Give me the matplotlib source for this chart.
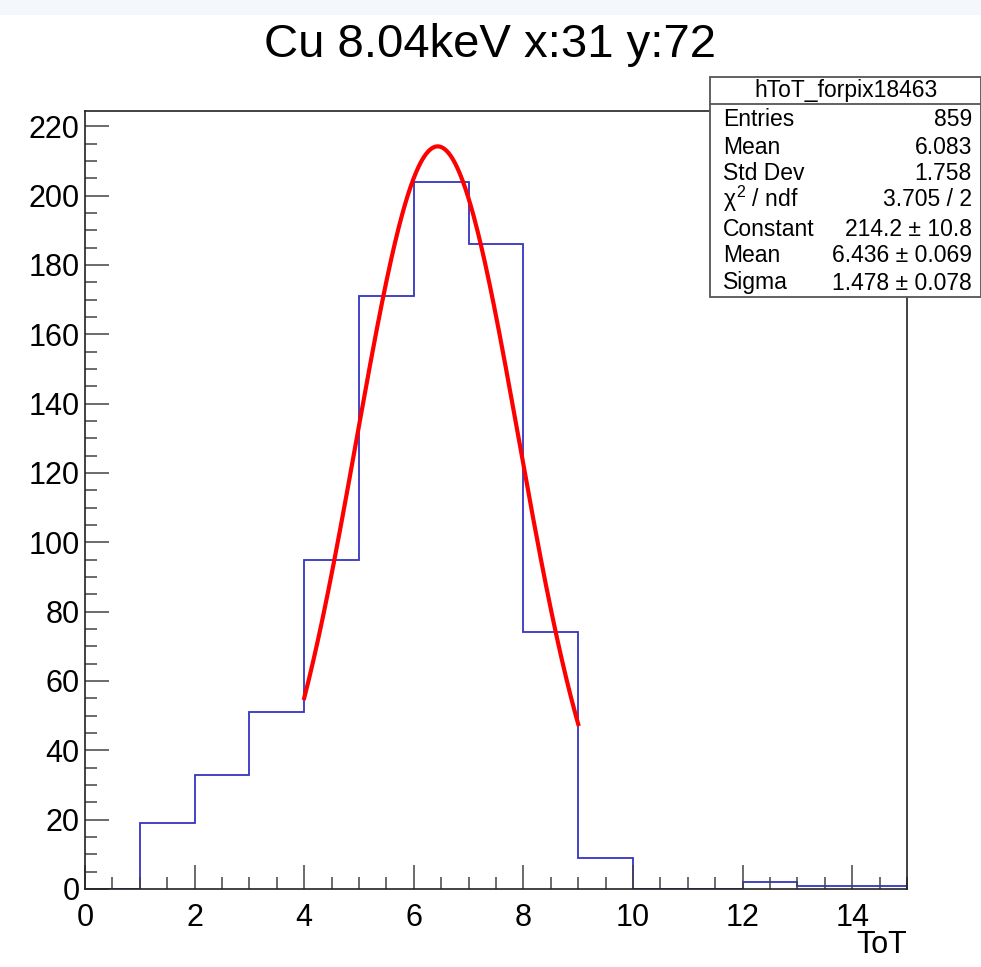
import matplotlib.pyplot as plt
import matplotlib.patches as mpatches
import numpy as np

# Data
bin_edges = np.arange(0, 16, 1)
counts = [0, 19, 33, 51, 95, 171, 204, 186, 74, 9, 0, 0, 2, 1, 1]
fit_const, fit_mean, fit_sigma = 214.2, 6.436, 1.478
fit_range = (4, 9)

stat_labels = ['Entries', 'Mean', 'Std Dev', r'$\chi^{2}$ / ndf', 'Constant', 'Mean', 'Sigma']
stat_values = ['859', '6.083', '1.758', '3.705 / 2', '214.2 ± 10.8', '6.436 ± 0.069', '1.478 ± 0.078']
hist_name = 'hToT_forpix18463'
title = 'Cu 8.04keV x:31 y:72'

plt.rcParams['font.family'] = ['Liberation Sans', 'DejaVu Sans']
plt.rcParams['mathtext.fontset'] = 'custom'
plt.rcParams['mathtext.rm'] = 'Liberation Sans'
plt.rcParams['mathtext.it'] = 'Liberation Sans'

W, H = 981, 967
fig = plt.figure(figsize=(W / 100, H / 100), dpi=100)
fig.patch.set_facecolor('white')

def fx(px):
    return px / W

def fy(py):
    return 1 - py / H

# light band at the top of the screenshot
fig.patches.append(mpatches.Rectangle((0, fy(15)), 1, 15 / H, transform=fig.transFigure,
                                      facecolor='#f4f7fb', edgecolor='none', zorder=0))

ax = fig.add_axes([fx(85), fy(889), fx(907) - fx(85), fy(111) - fy(889)])

# Histogram outline
ax.stairs(counts, bin_edges, color='#3535c0', linewidth=1.3, baseline=0)

# Gaussian fit
xs = np.linspace(fit_range[0], fit_range[1], 300)
ys = fit_const * np.exp(-0.5 * ((xs - fit_mean) / fit_sigma) ** 2)
ax.plot(xs, ys, color='#ff0000', linewidth=3)

ax.set_xlim(0, 15)
ax.set_ylim(0, 224.4)
ax.set_xticks(np.arange(0, 15, 2))
ax.set_xticks(np.arange(0, 15.01, 0.5), minor=True)
ax.set_yticks(np.arange(0, 221, 20))
ax.set_yticks(np.arange(0, 224, 5), minor=True)

ax.tick_params(which='both', direction='in', color='#444444', width=1.1,
               labelsize=22, top=False, right=False)
ax.tick_params(which='major', length=17)
ax.tick_params(which='minor', length=8.6)
ax.tick_params(axis='x', pad=10)
ax.tick_params(axis='y', pad=4)
for s in ax.spines.values():
    s.set_color('#222222')
    s.set_linewidth(1.2)

ax.text(15, -0.072, 'ToT', transform=ax.get_xaxis_transform(), ha='right', va='center', fontsize=22)

fig.text(0.5, fy(45), title, ha='center', va='center', fontsize=34)

# Stats box
bx0, bx1, by0, by1 = 710, 981.5, 77, 297
fig.patches.append(mpatches.Rectangle((fx(bx0), fy(by1)), fx(bx1) - fx(bx0), fy(by0) - fy(by1),
                                      transform=fig.transFigure, facecolor='white',
                                      edgecolor='#555555', linewidth=1.3, zorder=5))
fig.add_artist(plt.Line2D([fx(bx0), fx(bx1)], [fy(104), fy(104)], color='#555555', linewidth=1.3, zorder=6))
fig.text(fx((bx0 + 981) / 2), fy(90), hist_name, ha='center', va='center', fontsize=16.5, zorder=7)
row_y = [120, 147, 174, 199, 229, 256, 283]
for lab, val, ry in zip(stat_labels, stat_values, row_y):
    fig.text(fx(723), fy(ry), lab, ha='left', va='center', fontsize=16.5, zorder=7)
    fig.text(fx(972), fy(ry), val, ha='right', va='center', fontsize=16.5, zorder=7)

plt.savefig('out.png', dpi=100)
